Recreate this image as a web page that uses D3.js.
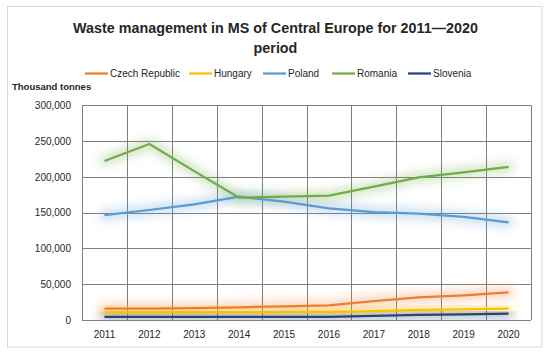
<!DOCTYPE html>
<html>
<head>
<meta charset="utf-8">
<script src="https://cdn.jsdelivr.net/npm/d3@7/dist/d3.min.js"></script>
<style>
  html, body { margin: 0; padding: 0; background: #fff; }
  svg { display: block; }
  text { font-family: "Liberation Sans", Arial, sans-serif; fill: #262626; }
</style>
</head>
<body>
<svg id="chart" width="550" height="355"></svg>
<script>
const years = ["2011","2012","2013","2014","2015","2016","2017","2018","2019","2020"];
const seriesNames = ["Czech Republic","Hungary","Poland","Romania","Slovenia"];
const czech    = [15800, 16000, 16500, 17800, 19200, 20500, 26500, 31500, 34500, 38700];
const hungary  = [10800, 10900, 11000, 11100, 11200, 11300, 12500, 14000, 15000, 16000];
const poland   = [146700, 153700, 161600, 172300, 165300, 156000, 150800, 148500, 144000, 136500];
const romania  = [222200, 245900, 208000, 170900, 172300, 173700, 186300, 199400, 206300, 213800];
const slovenia = [4200, 4200, 4300, 4300, 4300, 4300, 5800, 7200, 8000, 8800];
const yTicks = [0, 50000, 100000, 150000, 200000, 250000, 300000];
const colors = ["#ED7D31", "#FFC000", "#5B9BD5", "#70AD47", "#264478"];
const values = [czech, hungary, poland, romania, slovenia];

const svg = d3.select("#chart");
const pLeft = 82, pRight = 531, pTop = 105.3, pBottom = 320;

// outer frame
svg.append("rect").attr("x", 7.5).attr("y", 6.5).attr("width", 534.5).attr("height", 340.5)
  .attr("fill", "#fff").attr("stroke", "#d9d9d9").attr("stroke-width", 1);

const x = d3.scaleBand().domain(years).range([pLeft, pRight]).paddingInner(0).paddingOuter(0);
const y = d3.scaleLinear().domain([0, 300000]).range([pBottom, pTop]);

// filter for glow
const defs = svg.append("defs");
defs.append("filter").attr("id", "glow").attr("x", "-20%").attr("y", "-80%").attr("width", "140%").attr("height", "260%")
  .append("feGaussianBlur").attr("stdDeviation", 5);

// horizontal gridlines
svg.append("g").selectAll("line").data(yTicks).join("line")
  .attr("x1", pLeft).attr("x2", pRight)
  .attr("y1", d => Math.round(y(d)) + 0.5).attr("y2", d => Math.round(y(d)) + 0.5)
  .attr("stroke", "#7f7f7f").attr("stroke-width", 1);

// vertical gridlines at band boundaries
const bounds = years.map(d => x(d)).concat([pRight]);
svg.append("g").selectAll("line").data(bounds).join("line")
  .attr("x1", d => Math.round(d) + 0.5).attr("x2", d => Math.round(d) + 0.5)
  .attr("y1", pTop).attr("y2", pBottom)
  .attr("stroke", "#7f7f7f").attr("stroke-width", 1);

// y axis labels
const yAxis = d3.axisLeft(y).tickValues(yTicks).tickSize(0).tickPadding(11)
  .tickFormat(d3.format(","));
const yg = svg.append("g").attr("transform", `translate(${pLeft},0)`).call(yAxis);
yg.select(".domain").remove();
yg.selectAll("text").attr("font-size", 10).attr("fill", "#262626")
  .style("font-family", '"Liberation Sans", Arial, sans-serif');

// x axis labels
const xAxis = d3.axisBottom(x).tickSize(0).tickPadding(11);
const xg = svg.append("g").attr("transform", `translate(0,${pBottom})`).call(xAxis);
xg.select(".domain").remove();
xg.selectAll("text").attr("font-size", 10).attr("fill", "#262626")
  .style("font-family", '"Liberation Sans", Arial, sans-serif');

// lines
const line = d3.line().x((d, i) => x(years[i]) + x.bandwidth() / 2).y(d => y(d));
const lg = svg.append("g");
values.forEach((vals, k) => {
  lg.append("path").datum(vals).attr("d", line).attr("fill", "none")
    .attr("stroke", colors[k]).attr("stroke-width", 11).attr("stroke-opacity", 0.3)
    .attr("stroke-linecap", "round").attr("stroke-linejoin", "round")
    .attr("filter", "url(#glow)");
});
values.forEach((vals, k) => {
  lg.append("path").datum(vals).attr("d", line).attr("fill", "none")
    .attr("stroke", colors[k]).attr("stroke-width", 2.25)
    .attr("stroke-linejoin", "round");
});

// title
const t1 = svg.append("text").attr("x", 275.5).attr("y", 33).attr("text-anchor", "middle")
  .attr("font-weight", "bold").attr("font-size", 16).attr("fill", "#000")
  .text("Waste management in MS of Central Europe for 2011\u20142020");
const len = t1.node().getComputedTextLength();
const fs = 16 * 405 / len;
t1.attr("font-size", fs);
svg.append("text").attr("x", 275.5).attr("y", 53).attr("text-anchor", "middle")
  .attr("font-weight", "bold").attr("font-size", fs).attr("fill", "#000").text("period");

// y-axis title
svg.append("text").attr("x", 12).attr("y", 90).attr("font-weight", "bold").attr("font-size", 9.5)
  .attr("fill", "#000").text("Thousand tonnes");

// legend
const legendX = [85, 189, 263, 332, 408];
const lgd = svg.append("g");
seriesNames.forEach((n, k) => {
  lgd.append("line").attr("x1", legendX[k]).attr("x2", legendX[k] + 23)
    .attr("y1", 73.5).attr("y2", 73.5).attr("stroke", colors[k]).attr("stroke-width", 2.25);
  lgd.append("text").attr("x", legendX[k] + 25).attr("y", 77).attr("font-size", 10)
    .attr("fill", "#404040").text(n);
});
</script>
</body>
</html>
